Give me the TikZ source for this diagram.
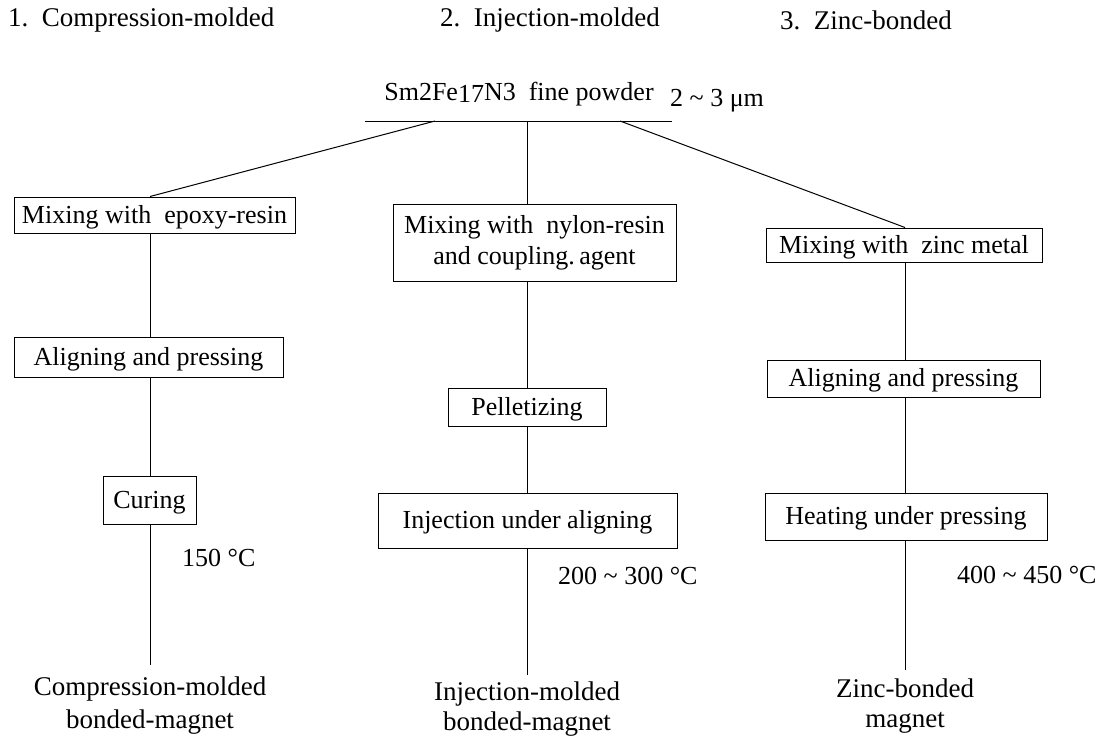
\documentclass[tikz,border=0pt]{standalone}
\usepackage{fontspec}
\setmainfont{Liberation Serif}
\begin{document}
\begin{tikzpicture}[x=1pt,y=-1pt,
  every node/.style={font=\fontsize{26}{31}\selectfont},
  pbox/.style={draw,line width=1pt,inner sep=0pt,align=center},
  sbox/.style={draw,line width=1pt,inner sep=0pt,text height=16pt,text depth=0pt},
  lbl/.style={inner sep=0pt,anchor=west},
  hdr/.style={inner sep=0pt,anchor=west,font=\fontsize{27}{31}\selectfont},
  res/.style={align=center,inner sep=0pt,font=\fontsize{27}{33}\selectfont},
  ln/.style={line width=1pt}]
\useasboundingbox (0,0) rectangle (1099,737);
% headers
\node[hdr] (h1) at (8,20) {1.\ \ Compression-molded};
\node[hdr] (h2) at (440,20) {2.\ \ Injection-molded};
\node[hdr] (h3) at (780,20) {3.\ \ Zinc-bonded};
% source
\node[inner sep=0pt] (src) at (519,94) {Sm2Fe\raisebox{-0.15ex}{17}N3\ \ fine powder};
\node[lbl] (size) at (670,101) {2 \char"007E\ 3 μm};
\coordinate (hl) at (365,121);
\coordinate (hr) at (672,121);
\draw[ln] (hl) -- (hr);
\coordinate (jl) at (435,121);
\coordinate (jm) at (527,121);
\coordinate (jr) at (620,121);
% column coordinates
\coordinate (cA) at (150,0);
\coordinate (cB) at (527,0);
\coordinate (cC) at (905,0);
% column 1
\node[sbox,minimum width=281,minimum height=36] (a1) at (154.5,215) {Mixing with\ \ epoxy-resin};
\node[sbox,minimum width=269,minimum height=40] (a2) at (148.5,357) {Aligning and pressing};
\node[sbox,minimum width=93,minimum height=48] (a3) at (149.5,500) {Curing};
\node[lbl] (t1) at (182,558) {150 °C};
\coordinate (e1) at (150,665);
\node[res] (r1) at (150,706) {Compression-molded\\bonded-magnet};
% column 2
\node[pbox,minimum width=283,minimum height=77] (b1) at (534.5,242.5) {Mixing with\ \ nylon-resin\\and coupling.\,agent};
\node[sbox,minimum width=158,minimum height=38] (b2) at (527,407) {Pelletizing};
\node[sbox,minimum width=299,minimum height=55] (b3) at (527.5,520.5) {Injection under aligning};
\node[lbl] (t2) at (558,576) {200 \char"007E\ 300 °C};
\coordinate (e2) at (527,675);
\node[res,font=\fontsize{27}{30}\selectfont] (r2) at (527,709) {Injection-molded\\bonded-magnet};
% column 3
\node[sbox,minimum width=276,minimum height=34] (c1) at (904,245) {Mixing with\ \ zinc metal};
\node[sbox,minimum width=273,minimum height=37] (c2) at (903.5,378.5) {Aligning and pressing};
\node[sbox,minimum width=282,minimum height=47] (c3) at (906,516.5) {Heating under pressing};
\node[lbl] (t3) at (957,575) {400 \char"007E\ 450 °C};
\coordinate (e3) at (905,670);
\node[res,font=\fontsize{27}{30}\selectfont] (r3) at (905,706) {Zinc-bonded\\magnet};
% connectors
\draw[ln] (jl) -- (a1.north -| cA);
\draw[ln] (jm) -- (b1.north -| cB);
\draw[ln] (jr) -- (c1.north -| cC);
\draw[ln] (a1.south -| cA) -- (a2.north -| cA);
\draw[ln] (a2.south -| cA) -- (a3.north -| cA);
\draw[ln] (a3.south -| cA) -- (e1);
\draw[ln] (b1.south -| cB) -- (b2.north -| cB);
\draw[ln] (b2.south -| cB) -- (b3.north -| cB);
\draw[ln] (b3.south -| cB) -- (e2);
\draw[ln] (c1.south -| cC) -- (c2.north -| cC);
\draw[ln] (c2.south -| cC) -- (c3.north -| cC);
\draw[ln] (c3.south -| cC) -- (e3);
\end{tikzpicture}
\end{document}
